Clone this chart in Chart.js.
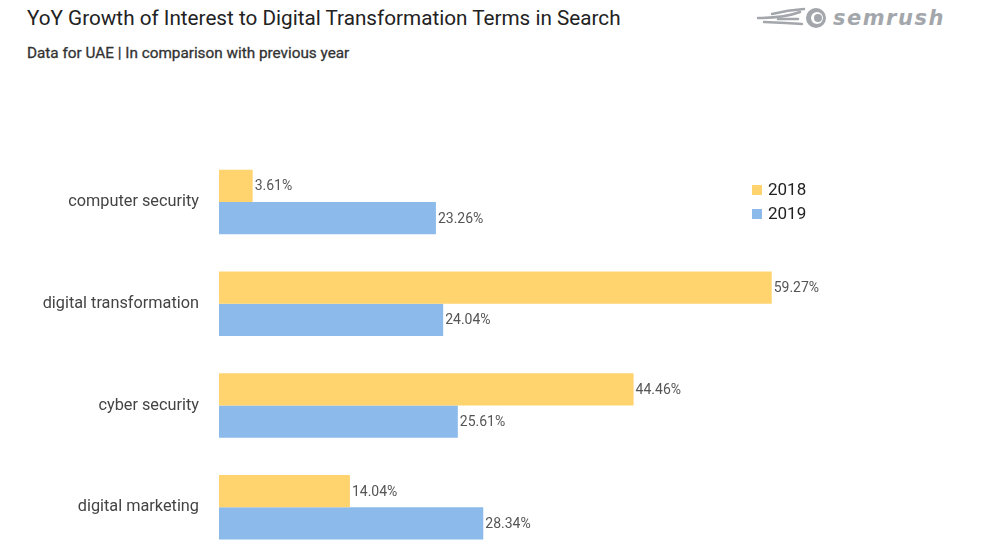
<!DOCTYPE html>
<html>
<head>
<meta charset="utf-8">
<script src="https://cdn.jsdelivr.net/npm/chart.js@4"></script>
<style>
  html, body { margin: 0; padding: 0; background: #fff; overflow: hidden; }
  #wrap { position: relative; width: 1000px; height: 550px; overflow: hidden; }
  #chart-box { position: absolute; left: 0; top: 0; width: 1000px; height: 580px; }
  .title { position: absolute; left: 27px; top: 6px; font-family: Roboto, sans-serif; font-size: 20.7px; color: #222; white-space: nowrap; }
  .subtitle { position: absolute; left: 27px; top: 44px; font-family: Roboto, sans-serif; font-size: 15.3px; color: #333; white-space: nowrap; -webkit-text-stroke: 0.3px #333; }
  .logo { position: absolute; left: 754px; top: 6px; display: flex; align-items: center; }
  .logo span { font-family: "DejaVu Sans", sans-serif; font-weight: bold; font-style: italic; font-size: 21px; color: #a3a7ab; letter-spacing: 1.5px; margin-left: 3px; }
</style>
</head>
<body>
<div id="wrap">
  <div class="title">YoY Growth of Interest to Digital Transformation Terms in Search</div>
  <div class="subtitle">Data for UAE | In comparison with previous year</div>
  <div class="logo">
    <svg width="76" height="24" viewBox="0 0 76 24">
      <g fill="none" stroke="#a3a7ab" stroke-width="2.5" stroke-linecap="round">
        <path d="M4 12 Q30 12 46 6"/>
        <path d="M10 16 Q34 17 48 18"/>
        <path d="M18 8 Q34 4 50 3"/>
        <path d="M24 13 L44 13"/>
      </g>
      <circle cx="62" cy="12" r="10" fill="#a3a7ab"/>
      <circle cx="63" cy="12" r="6" fill="#fff"/>
      <circle cx="64" cy="12" r="4" fill="#a3a7ab"/>
    </svg>
    <span>semrush</span>
  </div>
  <div id="chart-box"><canvas id="chart-canvas"></canvas></div>
</div>
<script>
const categories = ['computer security', 'digital transformation', 'cyber security', 'digital marketing'];
const years = ['2018', '2019'];
const values2018 = [3.61, 59.27, 44.46, 14.04];
const values2019 = [23.26, 24.04, 25.61, 28.34];

const yellow = '#FFD36E';
const blue = '#8BBAEB';

// value labels at the end of each bar
const valueLabels = {
    id: 'valueLabels',
    afterDatasetsDraw(chart) {
        const ctx = chart.ctx;
        ctx.save();
        ctx.font = '14px Roboto, sans-serif';
        ctx.fillStyle = '#555';
        ctx.textAlign = 'left';
        ctx.textBaseline = 'middle';
        chart.data.datasets.forEach((ds, i) => {
            chart.getDatasetMeta(i).data.forEach((bar, j) => {
                ctx.fillText(ds.data[j].toFixed(2) + '%', bar.x + 2, bar.y + 1);
            });
        });
        ctx.restore();
    }
};

// legend drawn at a fixed spot on the right
const sideLegend = {
    id: 'sideLegend',
    afterDraw(chart) {
        const ctx = chart.ctx;
        ctx.save();
        ctx.font = '17px Roboto, sans-serif';
        ctx.textBaseline = 'middle';
        chart.data.datasets.forEach((ds, i) => {
            const y = 190 + i * 24;
            ctx.fillStyle = ds.backgroundColor;
            ctx.fillRect(752, y - 5, 10, 10);
            ctx.fillStyle = '#222';
            ctx.fillText(ds.label, 768, y + 1);
        });
        ctx.restore();
    }
};

new Chart(document.getElementById('chart-canvas'), {
    type: 'bar',
    data: {
        labels: categories,
        datasets: [
            { label: years[0], data: values2018, backgroundColor: yellow },
            { label: years[1], data: values2019, backgroundColor: blue }
        ]
    },
    options: {
        indexAxis: 'y',
        responsive: true,
        maintainAspectRatio: false,
        animation: false,
        layout: { padding: { top: 151, bottom: 16, left: 0, right: 35 } },
        datasets: { bar: { categoryPercentage: 0.634, barPercentage: 1.0 } },
        plugins: {
            legend: { display: false },
            tooltip: { enabled: false }
        },
        scales: {
            x: { display: false, min: 0, max: 80 },
            y: {
                grid: { display: false },
                border: { display: false },
                ticks: {
                    color: '#444',
                    padding: 12,
                    font: { family: 'Roboto, sans-serif', size: 16.3 }
                },
                afterFit(scale) { scale.width = 219; }
            }
        }
    },
    plugins: [valueLabels, sideLegend]
});
</script>
</body>
</html>
